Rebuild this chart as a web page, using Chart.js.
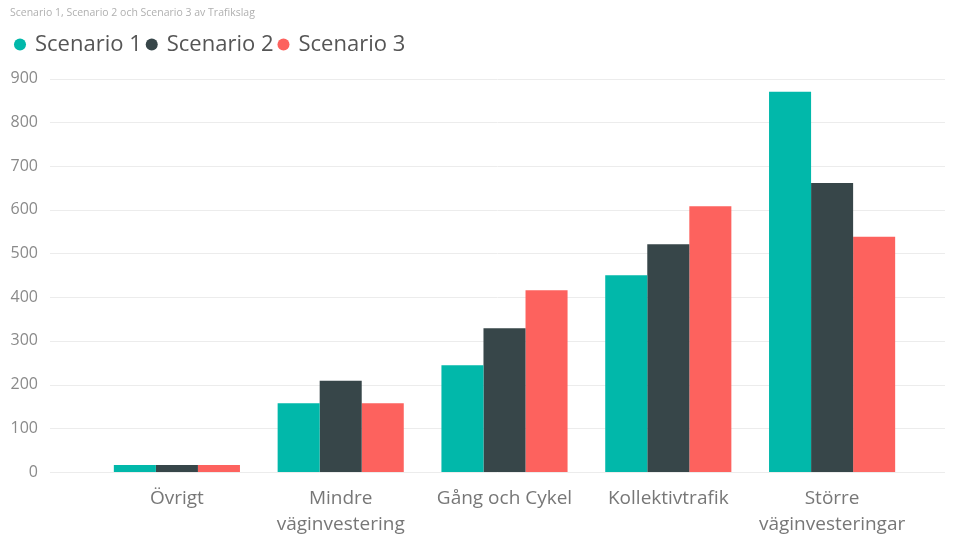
<!DOCTYPE html>
<html>
<head>
<meta charset="utf-8">
<script src="https://cdn.jsdelivr.net/npm/chart.js@4"></script>
<style>
html,body{margin:0;padding:0;background:#fff;}
#wrap{width:955px;height:535px;}
</style>
</head>
<body>
<div id="wrap"><canvas id="c" width="955" height="535"></canvas></div>
<script>
const categories = ['Övrigt', ['Mindre', 'väginvestering'], 'Gång och Cykel', 'Kollektivtrafik', ['Större', 'väginvesteringar']];
const scenario1 = [16, 157, 244, 450, 870];
const scenario2 = [16, 209, 329, 521, 661];
const scenario3 = [16, 157, 416, 608, 538];
const yTicks = [0, 100, 200, 300, 400, 500, 600, 700, 800, 900];
const seriesNames = ['Scenario 1', 'Scenario 2', 'Scenario 3'];
const colors = ['#01B8AA', '#374649', '#FD625E'];
const FONT = '"Segoe UI", "Open Sans", sans-serif';

const gridPlugin = {
  id: 'wideGrid',
  beforeDatasetsDraw(chart) {
    const y = chart.scales.y;
    const ctx = chart.ctx;
    ctx.save();
    ctx.strokeStyle = '#ececec';
    ctx.lineWidth = 1;
    yTicks.forEach(v => {
      const py = Math.round(y.getPixelForValue(v)) + 0.5;
      ctx.beginPath();
      ctx.moveTo(50, py);
      ctx.lineTo(945, py);
      ctx.stroke();
    });
    ctx.restore();
  }
};

const chart = new Chart(document.getElementById('c'), {
  type: 'bar',
  data: {
    labels: categories,
    datasets: [
      {label: seriesNames[0], data: scenario1, backgroundColor: colors[0]},
      {label: seriesNames[1], data: scenario2, backgroundColor: colors[1]},
      {label: seriesNames[2], data: scenario3, backgroundColor: colors[2]}
    ]
  },
  options: {
    responsive: false,
    animation: false,
    layout: {padding: {left: 10, right: 41, top: 3, bottom: 0}},
    datasets: {bar: {barPercentage: 1, categoryPercentage: 0.77}},
    plugins: {
      title: {
        display: true,
        text: 'Scenario 1, Scenario 2 och Scenario 3 av Trafikslag',
        align: 'start',
        color: '#b0b0b0',
        font: {family: FONT, size: 10.5, weight: 'normal'},
        padding: {top: 4, bottom: 8}
      },
      legend: {
        display: true,
        align: 'start',
        labels: {
          usePointStyle: true,
          pointStyle: 'circle',
          boxWidth: 8,
          boxHeight: 8.5,
          color: '#555555',
          font: {family: FONT, size: 22},
          padding: 6
        }
      },
      tooltip: {enabled: false}
    },
    scales: {
      x: {
        grid: {display: false, drawTicks: false},
        border: {display: false},
        afterFit(scale) { scale.height = 63; },
        ticks: {
          color: '#777777',
          font: {family: FONT, size: 19, lineHeight: 1.37},
          padding: 14,
          maxRotation: 0,
          autoSkip: false
        }
      },
      y: {
        min: 0,
        max: 900,
        afterBuildTicks(scale) { scale.ticks = yTicks.map(v => ({value: v})); },
        afterFit(scale) { scale.width = 85; },
        grid: {display: false, drawTicks: false},
        border: {display: false},
        ticks: {
          color: '#8a8a8a',
          font: {family: FONT, size: 16, lineHeight: 0.75},
          padding: 57
        }
      }
    }
  },
  plugins: [gridPlugin]
});
const origFit = chart.legend.fit;
chart.legend.fit = function () { origFit.call(this); this.height += 13; };
chart.update();
</script>
</body>
</html>
